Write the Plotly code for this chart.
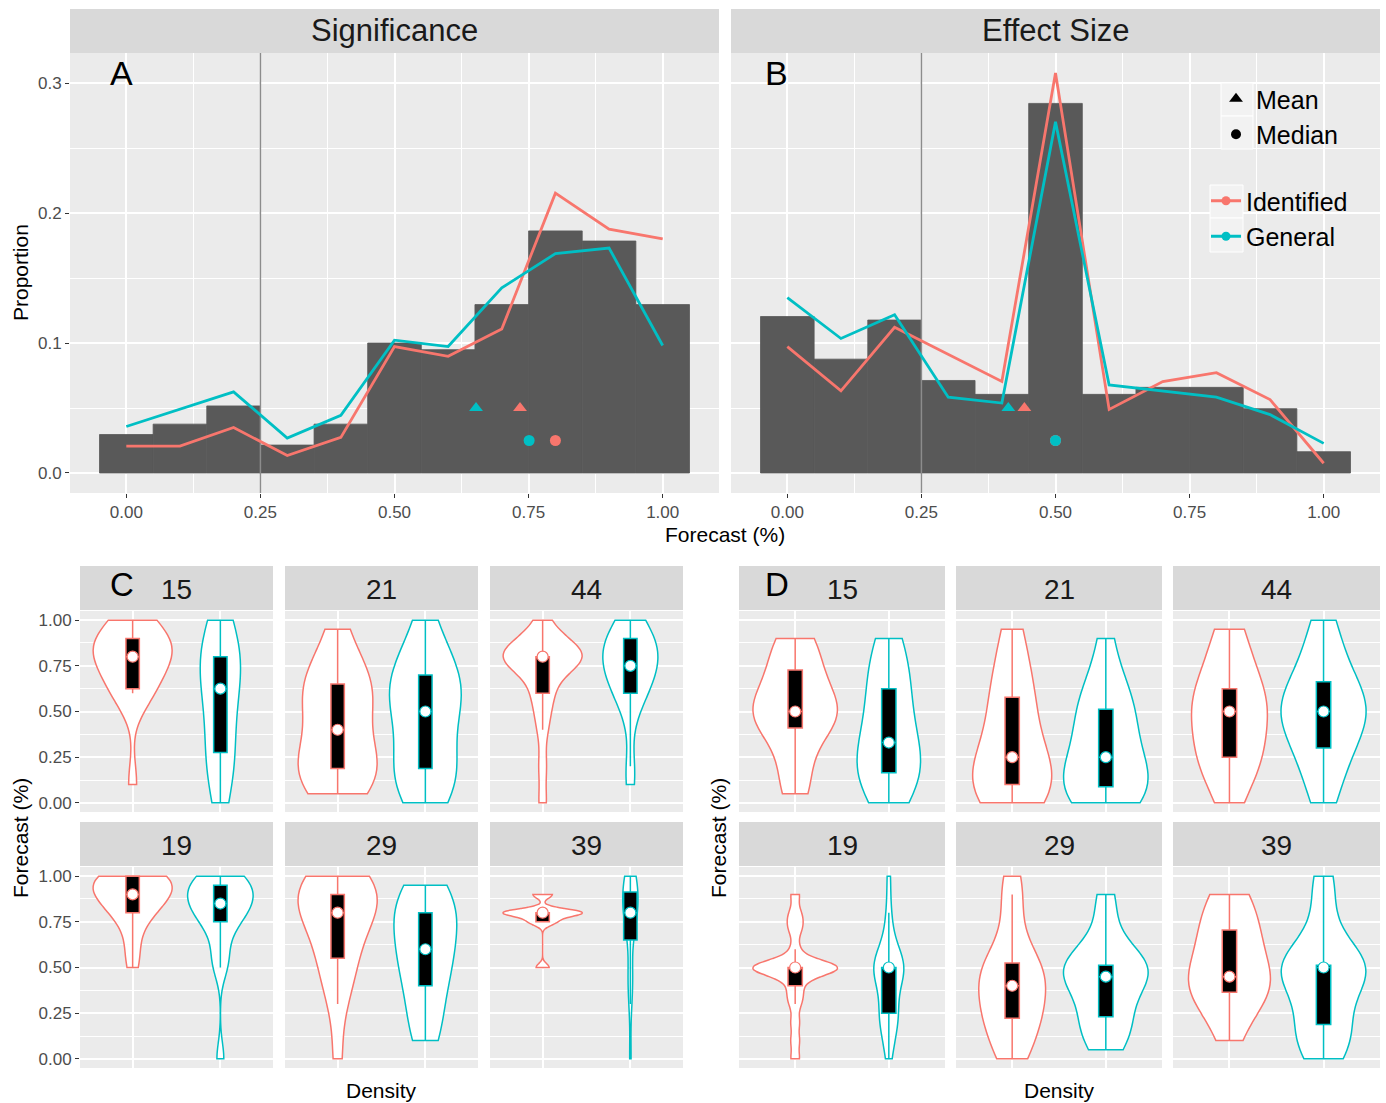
import numpy as np
import plotly.graph_objects as go

RED = "#F8766D"
TEAL = "#00BFC4"
FONT = "Liberation Sans, Arial, Helvetica, sans-serif"

# ---------------- data: panels A / B ----------------
BINS = [0.0, 0.1, 0.2, 0.3, 0.4, 0.5, 0.6, 0.7, 0.8, 0.9, 1.0]
sig_hist = [0.0296, 0.0376, 0.0516, 0.0215, 0.0376, 0.1000, 0.0949, 0.1296, 0.1863, 0.1785, 0.1296]
sig_identified = [0.0207, 0.0207, 0.0350, 0.0134, 0.0274, 0.0973, 0.0898, 0.1108, 0.2153, 0.1876, 0.1801]
sig_general = [0.0358, 0.0490, 0.0624, 0.0269, 0.0444, 0.1022, 0.0973, 0.1425, 0.1688, 0.1731, 0.0981]
eff_hist = [0.1204, 0.0876, 0.1177, 0.0712, 0.0605, 0.2844, 0.0605, 0.0659, 0.0659, 0.0495, 0.0164]
eff_identified = [0.0973, 0.0632, 0.1121, 0.0914, 0.0704, 0.3078, 0.0489, 0.0704, 0.0772, 0.0565, 0.0075]
eff_general = [0.1349, 0.1035, 0.1218, 0.0583, 0.0538, 0.2702, 0.0677, 0.0632, 0.0583, 0.0449, 0.0228]
sig_mean = [0.734, 0.652]     # Identified, General
sig_median = [0.800, 0.751]
eff_mean = [0.442, 0.412]
eff_median = [0.500, 0.500]
THRESHOLD = 0.25
MEAN_Y = 0.05
MEDIAN_Y = 0.025

# ---------------- data: panels C / D (individual forecasts) ----------------
STUDIES = ["15", "21", "44", "19", "29", "39"]
GROUPS = ["Identified", "General"]

sig15_identified = [0.1, 0.6, 0.6, 0.6, 0.65, 0.75, 0.8, 0.8, 0.8, 0.85, 0.85, 0.9, 0.9, 0.9, 1.0, 1.0]
sig15_general = [0.0, 0.1, 0.2, 0.25, 0.3, 0.4, 0.5, 0.6, 0.65, 0.7, 0.75, 0.8, 0.8, 0.9, 0.95, 1.0]
sig21_identified = [0.05, 0.1, 0.1, 0.15, 0.2, 0.2, 0.25, 0.3, 0.4, 0.5, 0.55, 0.6, 0.65, 0.65, 0.7, 0.8, 0.95]
sig21_general = [0.0, 0.05, 0.1, 0.15, 0.2, 0.2, 0.3, 0.45, 0.5, 0.55, 0.6, 0.6, 0.7, 0.7, 0.75, 0.85, 1.0]
sig44_identified = [0.0, 0.2, 0.4, 0.5, 0.6, 0.6, 0.7, 0.75, 0.8, 0.8, 0.8, 0.8, 0.8, 0.8, 0.8, 0.8, 0.85, 0.9, 0.9, 1.0]
sig44_general = [0.1, 0.2, 0.5, 0.6, 0.6, 0.6, 0.7, 0.7, 0.75, 0.75, 0.75, 0.8, 0.8, 0.85, 0.9, 0.9, 0.9, 0.9, 0.95, 1.0]
sig19_identified = [0.5, 0.6, 0.7, 0.8, 0.8, 0.82, 0.85, 0.9, 0.9, 0.9, 0.95, 0.95, 0.95, 1.0, 1.0, 1.0, 1.0, 1.0]
sig19_general = [0.0, 0.5, 0.55, 0.65, 0.75, 0.75, 0.8, 0.8, 0.85, 0.85, 0.9, 0.9, 0.9, 0.95, 0.95, 1.0, 1.0, 1.0]
sig29_identified = [0.0, 0.3, 0.4, 0.5, 0.55, 0.6, 0.7, 0.75, 0.8, 0.8, 0.85, 0.9, 0.9, 0.9, 0.95, 1.0, 1.0, 1.0]
sig29_general = [0.1, 0.15, 0.2, 0.3, 0.4, 0.45, 0.5, 0.55, 0.6, 0.6, 0.7, 0.75, 0.8, 0.8, 0.85, 0.9, 0.9, 0.95]
sig39_identified = [0.5, 0.5, 0.75, 0.75, 0.75, 0.75, 0.8, 0.8, 0.8, 0.8, 0.8, 0.8, 0.8, 0.8, 0.8, 0.8, 0.8, 0.8, 0.9, 0.9, 0.9]
sig39_general = [0.0, 0.3, 0.4, 0.45, 0.5, 0.7, 0.7, 0.75, 0.8, 0.8, 0.8, 0.85, 0.85, 0.9, 0.9, 0.9, 0.95, 1.0, 1.0, 1.0, 1.0]

eff15_identified = [0.05, 0.1, 0.2, 0.35, 0.43, 0.45, 0.5, 0.5, 0.5, 0.5, 0.55, 0.6, 0.72, 0.75, 0.8, 0.9, 0.9]
eff15_general = [0.0, 0.05, 0.1, 0.15, 0.17, 0.2, 0.25, 0.3, 0.33, 0.4, 0.5, 0.55, 0.6, 0.7, 0.75, 0.85, 0.9]
eff21_identified = [0.0, 0.0, 0.05, 0.1, 0.1, 0.1, 0.15, 0.2, 0.25, 0.3, 0.4, 0.5, 0.57, 0.6, 0.7, 0.85, 0.95]
eff21_general = [0.0, 0.0, 0.05, 0.05, 0.1, 0.1, 0.15, 0.2, 0.25, 0.3, 0.4, 0.45, 0.5, 0.55, 0.6, 0.7, 0.9]
eff44_identified = [0.0, 0.1, 0.2, 0.25, 0.25, 0.3, 0.35, 0.45, 0.5, 0.55, 0.55, 0.6, 0.6, 0.7, 0.8, 0.9, 0.95]
eff44_general = [0.0, 0.1, 0.2, 0.3, 0.3, 0.4, 0.45, 0.5, 0.5, 0.5, 0.55, 0.6, 0.65, 0.7, 0.8, 0.9, 1.0]
eff19_identified = [0.0, 0.1, 0.2, 0.3, 0.35, 0.4, 0.45, 0.5, 0.5, 0.5, 0.5, 0.5, 0.5, 0.5, 0.5, 0.5, 0.5, 0.6, 0.7, 0.75, 0.8, 0.9]
eff19_general = [0.0, 0.1, 0.15, 0.2, 0.25, 0.25, 0.25, 0.3, 0.4, 0.45, 0.5, 0.5, 0.5, 0.5, 0.5, 0.5, 0.5, 0.55, 0.6, 0.7, 0.8, 1.0]
eff29_identified = [0.0, 0.05, 0.1, 0.2, 0.23, 0.25, 0.3, 0.35, 0.4, 0.45, 0.5, 0.5, 0.5, 0.6, 0.75, 0.9, 1.0]
eff29_general = [0.05, 0.1, 0.15, 0.2, 0.24, 0.3, 0.4, 0.45, 0.45, 0.5, 0.5, 0.5, 0.5, 0.55, 0.6, 0.8, 0.9]
eff39_identified = [0.1, 0.2, 0.3, 0.35, 0.37, 0.4, 0.42, 0.45, 0.45, 0.55, 0.6, 0.65, 0.69, 0.75, 0.8, 0.9, 0.9]
eff39_general = [0.0, 0.05, 0.1, 0.15, 0.2, 0.25, 0.4, 0.45, 0.5, 0.5, 0.5, 0.5, 0.5, 0.55, 0.7, 0.9, 1.0]

SIG_VIOLINS = {
    "15": (sig15_identified, sig15_general), "21": (sig21_identified, sig21_general),
    "44": (sig44_identified, sig44_general), "19": (sig19_identified, sig19_general),
    "29": (sig29_identified, sig29_general), "39": (sig39_identified, sig39_general),
}
EFF_VIOLINS = {
    "15": (eff15_identified, eff15_general), "21": (eff21_identified, eff21_general),
    "44": (eff44_identified, eff44_general), "19": (eff19_identified, eff19_general),
    "29": (eff29_identified, eff29_general), "39": (eff39_identified, eff39_general),
}

VIOLIN_WIDTH = 0.9     # width of the widest violin in a facet (category units)
BOX_WIDTH = 0.153      # inner box width (category units)


def max_density(vals):
    """Peak of the Gaussian KDE (Silverman bandwidth, as plotly uses) over the data span."""
    v = np.asarray(vals, dtype=float)
    n = len(v)
    sd = v.std(ddof=1)
    q1, q3 = np.percentile(v, [25, 75])
    spread = min(sd, (q3 - q1) / 1.349) if q3 > q1 else sd
    bw = 1.059 * spread * n ** -0.2
    grid = np.linspace(v.min(), v.max(), 600)
    dens = np.exp(-0.5 * ((grid[:, None] - v[None, :]) / bw) ** 2).sum(1) / (n * bw * np.sqrt(2 * np.pi))
    return dens.max()


# ---------------- layout geometry (pixels) ----------------
W, H = 1386, 1103


def xdom(a, b):
    return [a / W, b / W]


def ydom(top, bottom):
    return [1 - bottom / H, 1 - top / H]


def px(x):
    return x / W


def py(y):
    return 1 - y / H


TOP_COLS = [(70, 719), (731, 1380)]
TOP_ROW = (53, 493)
TOP_STRIP = (9, 53)
TOP_LETTER_X = [122, 777]
C_COLS = [(80, 273), (285, 478), (490, 683)]
D_COLS = [(739, 945), (956, 1162), (1173, 1380)]
BOT_LETTER_X = {"C": 122, "D": 777}
BOT_ROWS = [(611, 812), (867, 1068)]
BOT_STRIPS = [(566, 610), (822, 866)]

TICK_FONT = dict(family=FONT, size=17, color="#4D4D4D")
GRID = dict(gridcolor="white", gridwidth=1.7, zeroline=False, showline=False)

fig = go.Figure()
layout = dict(
    width=W, height=H, margin=dict(l=0, r=0, t=0, b=0),
    paper_bgcolor="white", plot_bgcolor="#EBEBEB",
    font=dict(family=FONT, color="black"),
    violinmode="overlay", showlegend=True,
)
shapes = []
annotations = []

# ---------------- top panels ----------------
top_sets = [
    ("Significance", "A", sig_hist, sig_identified, sig_general, sig_mean, sig_median),
    ("Effect Size", "B", eff_hist, eff_identified, eff_general, eff_mean, eff_median),
]
for i, (title, letter, hist, ident, gen, means, medians) in enumerate(top_sets):
    n = i + 1
    xa = "x" if n == 1 else f"x{n}"
    ya = "y" if n == 1 else f"y{n}"
    c0, c1 = TOP_COLS[i]
    layout["xaxis" if n == 1 else f"xaxis{n}"] = dict(
        domain=xdom(c0, c1), anchor=ya, range=[-0.105, 1.105],
        tickmode="array", tickvals=[0, 0.25, 0.5, 0.75, 1.0],
        ticktext=["0.00", "0.25", "0.50", "0.75", "1.00"],
        ticks="outside", ticklen=4, tickcolor="#333333", tickwidth=1.2, tickfont=TICK_FONT,
        minor=dict(tickmode="array", tickvals=[0.125, 0.375, 0.625, 0.875], showgrid=True,
                   gridcolor="white", gridwidth=0.8, ticks=""),
        **GRID,
    )
    layout["yaxis" if n == 1 else f"yaxis{n}"] = dict(
        domain=ydom(*TOP_ROW), anchor=xa, range=[-0.0154, 0.3232],
        tickmode="array", tickvals=[0, 0.1, 0.2, 0.3], ticktext=["0.0", "0.1", "0.2", "0.3"],
        showticklabels=(n == 1), ticks="outside" if n == 1 else "", ticklen=4,
        tickcolor="#333333", tickwidth=1.2, tickfont=TICK_FONT,
        minor=dict(tickmode="array", tickvals=[0.05, 0.15, 0.25], showgrid=True,
                   gridcolor="white", gridwidth=0.8, ticks=""),
        **GRID,
    )
    fig.add_trace(go.Bar(x=BINS, y=hist, width=0.1,
                         marker=dict(color="#595959", line=dict(width=0.8, color="#595959")),
                         xaxis=xa, yaxis=ya, showlegend=False))
    fig.add_trace(go.Scatter(x=[THRESHOLD, THRESHOLD], y=[-1, 1], mode="lines",
                             line=dict(color="#8C8C8C", width=1.5), xaxis=xa, yaxis=ya, showlegend=False))
    for vals, col in ((ident, RED), (gen, TEAL)):
        fig.add_trace(go.Scatter(x=BINS, y=vals, mode="lines", line=dict(color=col, width=2.8),
                                 xaxis=xa, yaxis=ya, showlegend=False))
    for gi, col in enumerate((RED, TEAL)):
        fig.add_trace(go.Scatter(x=[means[gi]], y=[MEAN_Y], mode="markers",
                                 marker=dict(symbol="triangle-up", size=12, color=col),
                                 xaxis=xa, yaxis=ya, showlegend=False))
        fig.add_trace(go.Scatter(x=[medians[gi]], y=[MEDIAN_Y], mode="markers",
                                 marker=dict(symbol="circle", size=11, color=col),
                                 xaxis=xa, yaxis=ya, showlegend=False))
    shapes.append(dict(type="rect", xref="paper", yref="paper", x0=px(c0), x1=px(c1),
                       y0=py(TOP_STRIP[1]), y1=py(TOP_STRIP[0]), fillcolor="#D9D9D9",
                       line=dict(width=0), layer="below"))
    annotations.append(dict(text=title, xref="paper", yref="paper", x=px((c0 + c1) / 2),
                            y=py(31), xanchor="center", yanchor="middle", showarrow=False,
                            font=dict(size=31, color="#1A1A1A")))
    annotations.append(dict(text=letter, xref="paper", yref="paper", x=px(TOP_LETTER_X[i]),
                            y=py(73), xanchor="center", yanchor="middle", showarrow=False,
                            font=dict(size=34, color="black")))

# ---------------- violin panels ----------------
axis_n = 3
for panel, cols, data in (("C", C_COLS, SIG_VIOLINS), ("D", D_COLS, EFF_VIOLINS)):
    for si, study in enumerate(STUDIES):
        r, c = divmod(si, 3)
        c0, c1 = cols[c]
        top, bottom = BOT_ROWS[r]
        xa, ya = f"x{axis_n}", f"y{axis_n}"
        layout[f"xaxis{axis_n}"] = dict(
            domain=xdom(c0, c1), anchor=ya, type="category",
            categoryorder="array", categoryarray=GROUPS, range=[-0.6, 1.6],
            showticklabels=False, ticks="", **GRID,
        )
        show_y = panel == "C" and c == 0
        layout[f"yaxis{axis_n}"] = dict(
            domain=ydom(top, bottom), anchor=xa, range=[-0.05, 1.05],
            tickmode="array", tickvals=[0, 0.25, 0.5, 0.75, 1.0],
            ticktext=["0.00", "0.25", "0.50", "0.75", "1.00"],
            showticklabels=show_y, ticks="outside" if show_y else "",
            ticklen=4, tickcolor="#333333", tickwidth=1.2, tickfont=TICK_FONT,
            minor=dict(tickmode="array", tickvals=[0.125, 0.375, 0.625, 0.875], showgrid=True,
                       gridcolor="white", gridwidth=0.8, ticks=""),
            **GRID,
        )
        # equal-area scaling within the facet (like ggplot's scale = "area")
        peaks = [max_density(data[study][gi]) for gi in range(2)]
        meds = []
        for gi, (grp, col) in enumerate(zip(GROUPS, (RED, TEAL))):
            vals = data[study][gi]
            meds.append(float(np.median(vals)))
            vw = VIOLIN_WIDTH * peaks[gi] / max(peaks)
            fig.add_trace(go.Violin(
                x=[grp] * len(vals), y=vals, xaxis=xa, yaxis=ya,
                line=dict(color=col, width=1.5), fillcolor="white", width=vw,
                spanmode="hard", scalegroup=f"{panel}{study}{grp}", scalemode="width",
                points="outliers", marker=dict(opacity=0, size=1),
                box=dict(visible=True, width=min(1.0, BOX_WIDTH / vw), fillcolor="black",
                         line=dict(color=col, width=1.5)),
                meanline=dict(visible=False), showlegend=False, hoverinfo="skip",
            ))
        fig.add_trace(go.Scatter(
            x=GROUPS, y=meds, mode="markers", xaxis=xa, yaxis=ya, showlegend=False,
            marker=dict(size=11, color="white", line=dict(color=[RED, TEAL], width=1.2)),
        ))
        s0, s1 = BOT_STRIPS[r]
        shapes.append(dict(type="rect", xref="paper", yref="paper", x0=px(c0), x1=px(c1),
                           y0=py(s1), y1=py(s0), fillcolor="#D9D9D9", line=dict(width=0), layer="below"))
        annotations.append(dict(text=study, xref="paper", yref="paper", x=px((c0 + c1) / 2),
                                y=py((s0 + s1) / 2 + 1), xanchor="center", yanchor="middle",
                                showarrow=False, font=dict(size=28, color="#1A1A1A")))
        axis_n += 1
    annotations.append(dict(text=panel, xref="paper", yref="paper", x=px(BOT_LETTER_X[panel]),
                            y=py(584), xanchor="center", yanchor="middle", showarrow=False,
                            font=dict(size=33, color="black")))

# ---------------- axis titles ----------------
TITLE_FONT = dict(size=21, color="black")
annotations += [
    dict(text="Proportion", xref="paper", yref="paper", x=px(20), y=py(273), textangle=-90,
         xanchor="center", yanchor="middle", showarrow=False, font=TITLE_FONT),
    dict(text="Forecast (%)", xref="paper", yref="paper", x=px(725), y=py(534),
         xanchor="center", yanchor="middle", showarrow=False, font=TITLE_FONT),
    dict(text="Forecast (%)", xref="paper", yref="paper", x=px(20), y=py(838), textangle=-90,
         xanchor="center", yanchor="middle", showarrow=False, font=TITLE_FONT),
    dict(text="Forecast (%)", xref="paper", yref="paper", x=px(718), y=py(838), textangle=-90,
         xanchor="center", yanchor="middle", showarrow=False, font=TITLE_FONT),
    dict(text="Density", xref="paper", yref="paper", x=px(381), y=py(1090),
         xanchor="center", yanchor="middle", showarrow=False, font=TITLE_FONT),
    dict(text="Density", xref="paper", yref="paper", x=px(1059), y=py(1090),
         xanchor="center", yanchor="middle", showarrow=False, font=TITLE_FONT),
]

# ---------------- legends ----------------
for (x0, x1, y0, y1) in [(1221, 1253, 83, 116), (1221, 1253, 116, 149),
                         (1210, 1243, 185, 218), (1210, 1243, 218, 252)]:
    shapes.append(dict(type="rect", xref="paper", yref="paper", x0=px(x0), x1=px(x1),
                       y0=py(y1), y1=py(y0), fillcolor="#F2F2F2",
                       line=dict(color="white", width=1), layer="above"))

fig.add_trace(go.Scatter(x=[None], y=[None], mode="markers", name="Mean", legend="legend",
                         marker=dict(symbol="triangle-up", size=12, color="black")))
fig.add_trace(go.Scatter(x=[None], y=[None], mode="markers", name="Median", legend="legend",
                         marker=dict(symbol="circle", size=10, color="black")))
fig.add_trace(go.Scatter(x=[None], y=[None], mode="lines+markers", name="Identified", legend="legend2",
                         line=dict(color=RED, width=3), marker=dict(size=9, color=RED)))
fig.add_trace(go.Scatter(x=[None], y=[None], mode="lines+markers", name="General", legend="legend2",
                         line=dict(color=TEAL, width=3), marker=dict(size=9, color=TEAL)))

LEG_FONT = dict(family=FONT, size=25, color="black")
layout["legend"] = dict(x=px(1216), y=py(76), xanchor="left", yanchor="top", bgcolor="rgba(0,0,0,0)",
                        font=LEG_FONT, tracegroupgap=0, itemclick=False)
layout["legend2"] = dict(x=px(1206), y=py(178), xanchor="left", yanchor="top", bgcolor="rgba(0,0,0,0)",
                         font=LEG_FONT, tracegroupgap=0, itemclick=False)

layout["shapes"] = shapes
layout["annotations"] = annotations
fig.update_layout(**layout)
fig.write_html("out.html", config={"displayModeBar": False},
               post_script="document.body.style.margin='0px';document.body.style.padding='0px';")
